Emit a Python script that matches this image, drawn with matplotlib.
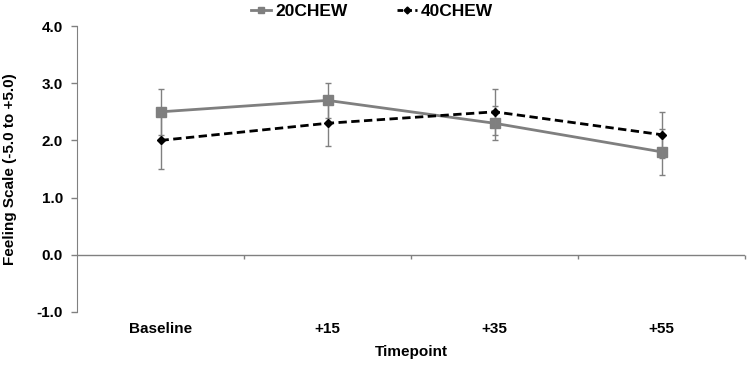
import matplotlib.pyplot as plt
import numpy as np
from matplotlib.lines import Line2D

# data
timepoints = ['Baseline', '+15', '+35', '+55']
chew20 = [2.5, 2.7, 2.3, 1.8]
chew20_err = [0.4, 0.3, 0.3, 0.4]
chew40 = [2.0, 2.3, 2.5, 2.1]
chew40_err = [0.5, 0.4, 0.4, 0.4]
yticks = [-1.0, 0.0, 1.0, 2.0, 3.0, 4.0]

plt.rcParams['font.family'] = ['Liberation Sans', 'DejaVu Sans']
plt.rcParams['font.weight'] = 'bold'

fig = plt.figure(figsize=(7.49, 3.67), dpi=100)
ax = fig.add_axes([0.1028, 0.150, 0.892, 0.779])

x = np.arange(len(timepoints))
ax.errorbar(x, chew20, yerr=chew20_err, color='#7f7f7f', lw=2, marker='s', ms=6.5,
            ecolor='#808080', elinewidth=1, capsize=2.5, capthick=1, zorder=3)
ax.errorbar(x, chew40, yerr=chew40_err, color='black', lw=2, ls=(0, (3, 1.6)), marker='D', ms=4.5,
            ecolor='#808080', elinewidth=1, capsize=2.5, capthick=1, zorder=4)

ax.set_xlim(-0.5, 3.5)
ax.set_ylim(-1.0, 4.0)
ax.set_yticks(yticks)
ax.set_yticklabels([f'{v:.1f}' for v in yticks], fontsize=11, fontweight='bold')
ax.tick_params(axis='y', direction='out', length=4, width=1, color='#808080', pad=6)

# x axis drawn at y = 0, category labels at the bottom
for s in ['top', 'right', 'bottom']:
    ax.spines[s].set_visible(False)
ax.spines['left'].set_color('#808080')
ax.axhline(0, color='#808080', lw=1, zorder=1)
ax.vlines([0.5, 1.5, 2.5, 3.5], -0.07, 0, color='#808080', lw=1, clip_on=False)
ax.set_xticks(x)
ax.set_xticklabels(timepoints, fontsize=11, fontweight='bold')
ax.tick_params(axis='x', length=0, pad=7)

ax.set_xlabel('Timepoint', fontsize=11, fontweight='bold', labelpad=7)
ax.set_ylabel('Feeling Scale (-5.0 to +5.0)', fontsize=11, fontweight='bold', labelpad=14)

handles = [Line2D([], [], color='#7f7f7f', lw=2, marker='s', ms=5),
           Line2D([], [], color='black', lw=2, ls=(0, (2, 1.2)), marker='D', ms=3.5)]
ax.legend(handles, ['20CHEW', '40CHEW'], loc='center', bbox_to_anchor=(0.497, 0.97),
          bbox_transform=fig.transFigure, ncol=2, frameon=False,
          prop={'size': 12.5, 'weight': 'bold'}, handlelength=1.1, handletextpad=0.25,
          columnspacing=2.9, borderaxespad=0)

fig.savefig('out.png', dpi=100)
